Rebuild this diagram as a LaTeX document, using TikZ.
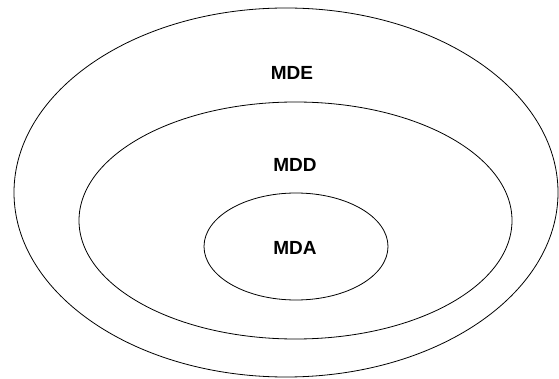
\documentclass[tikz,border=0pt]{standalone}
\usepackage{fontspec}
\setmainfont{Liberation Sans}
\usetikzlibrary{shapes.geometric}

\begin{document}
\begin{tikzpicture}
            [x=1pt,y=-1pt,areaname/.style={font=\fontsize{19}{22}\selectfont\bfseries},
             ring/.style={draw,shape=ellipse,inner sep=0,line width=0.8pt,black}]

            \useasboundingbox (0,0) rectangle (559,379);

            % nested areas, from the outside in
            \node[ring,minimum width=544pt,minimum height=369pt] (mde) at (286,192.5) {};
            \node[ring,minimum width=433pt,minimum height=237pt] (mdd) at (295.5,220.5) {};
            \node[ring,minimum width=184pt,minimum height=107pt] (mda) at (296,246.5) {};

            % names
            \node[areaname] (tmde) at (292,73) {MDE};
            \node[areaname] (tmdd) at (295,165) {MDD};
            \node[areaname] (tmda) at (295,248) {MDA};
          \end{tikzpicture}
\end{document}
